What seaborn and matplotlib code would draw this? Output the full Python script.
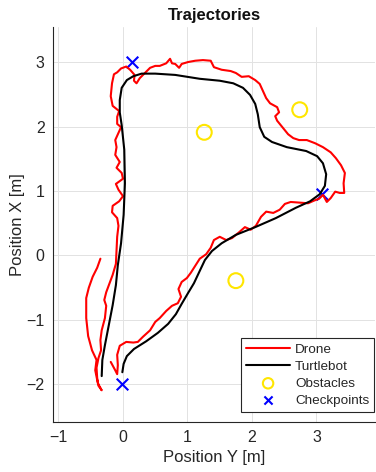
import seaborn as sns
import matplotlib.pyplot as plt

# Траектория дрона (Position Y, Position X), метры
drone_y = [-0.19, -0.12, -0.09, -0.08, -0.09, -0.05, 0.05, 0.16, 0.23, 0.31,
           0.42, 0.50, 0.57, 0.67, 0.76, 0.85, 0.90, 0.86, 0.91, 0.99,
           1.05, 1.12, 1.19, 1.29, 1.36, 1.41, 1.50, 1.60, 1.69, 1.80,
           1.89, 1.98, 2.06, 2.14, 2.22, 2.33, 2.43, 2.51, 2.60, 2.74,
           2.87, 2.96, 3.04, 3.10, 3.16, 3.22, 3.29, 3.36, 3.43, 3.42,
           3.44, 3.38, 3.30, 3.22, 3.10, 2.98, 2.85, 2.73, 2.64, 2.56,
           2.48, 2.39, 2.36, 2.42, 2.39, 2.28, 2.22, 2.17, 2.12, 2.05,
           1.95, 1.84, 1.75, 1.67, 1.53, 1.41, 1.36, 1.24, 1.12, 1.01,
           0.91, 0.87, 0.81, 0.76, 0.73, 0.67, 0.57, 0.50, 0.42, 0.34,
           0.26, 0.21, 0.17, 0.18, 0.11, 0.05, -0.03, -0.09, -0.14, -0.17,
           -0.19, -0.16, -0.06, -0.09, -0.09, -0.03, -0.08, -0.12, -0.10, -0.12,
           -0.05, -0.10, -0.02, 0.00, -0.11, -0.07, 0.00, -0.06, -0.16, -0.17,
           -0.09, -0.07, -0.09, -0.10, -0.11, -0.16, -0.20, -0.26, -0.29, -0.26,
           -0.28, -0.33, -0.35, -0.34, -0.38, -0.41, -0.40, -0.38, -0.33, -0.39,
           -0.43, -0.41, -0.48, -0.54, -0.57, -0.57, -0.53, -0.47, -0.40, -0.35]
drone_x = [-1.65, -1.78, -1.84, -1.70, -1.54, -1.40, -1.34, -1.35, -1.34, -1.26,
           -1.16, -1.03, -0.97, -0.86, -0.78, -0.74, -0.64, -0.52, -0.41, -0.35,
           -0.27, -0.16, -0.05, 0.02, 0.12, 0.24, 0.29, 0.24, 0.27, 0.36,
           0.44, 0.40, 0.46, 0.60, 0.68, 0.66, 0.71, 0.80, 0.83, 0.82,
           0.81, 0.85, 0.88, 0.94, 0.83, 0.89, 0.99, 0.97, 0.97, 1.12,
           1.28, 1.40, 1.51, 1.60, 1.68, 1.74, 1.79, 1.79, 1.82, 1.88,
           1.98, 2.09, 2.16, 2.22, 2.30, 2.36, 2.44, 2.55, 2.66, 2.72,
           2.78, 2.77, 2.83, 2.86, 2.88, 2.92, 3.02, 3.03, 3.02, 3.00,
           2.97, 2.91, 2.97, 2.98, 3.05, 2.98, 2.94, 2.94, 2.91, 2.83,
           2.75, 2.67, 2.71, 2.80, 2.88, 2.93, 2.90, 2.84, 2.81, 2.67,
           2.47, 2.32, 2.24, 2.15, 2.04, 1.99, 1.88, 1.79, 1.68, 1.56,
           1.45, 1.36, 1.28, 1.19, 1.11, 1.02, 0.92, 0.84, 0.77, 0.67,
           0.58, 0.46, 0.29, 0.09, -0.13, -0.30, -0.41, -0.57, -0.69, -0.78,
           -0.97, -1.16, -1.31, -1.47, -1.59, -1.74, -1.90, -2.02, -2.09, -1.98,
           -1.78, -1.62, -1.47, -1.25, -0.97, -0.66, -0.50, -0.33, -0.19, -0.05]

# Траектория Turtlebot
turtle_y = [-0.01, 0.01, 0.06, 0.17, 0.36, 0.54, 0.70, 0.82, 0.91, 1.01,
            1.10, 1.18, 1.27, 1.38, 1.53, 1.75, 2.05, 2.37, 2.68, 2.90,
            3.05, 3.13, 3.15, 3.10, 3.01, 2.84, 2.54, 2.31, 2.19, 2.12,
            2.09, 2.05, 1.97, 1.86, 1.71, 1.50, 1.19, 0.81, 0.50, 0.29,
            0.16, 0.06, -0.02, -0.05, -0.05, -0.02, 0.02, 0.03, 0.01, -0.03,
            -0.08, -0.11, -0.16, -0.22, -0.28, -0.32, -0.33]
turtle_x = [-1.81, -1.68, -1.56, -1.45, -1.33, -1.20, -1.06, -0.91, -0.75, -0.58,
            -0.43, -0.26, -0.07, 0.07, 0.19, 0.32, 0.44, 0.58, 0.74, 0.84,
            0.95, 1.08, 1.26, 1.43, 1.54, 1.62, 1.68, 1.76, 1.84, 1.99,
            2.19, 2.35, 2.49, 2.60, 2.67, 2.71, 2.74, 2.80, 2.82, 2.82,
            2.78, 2.72, 2.60, 2.41, 2.22, 2.02, 1.64, 1.12, 0.63, 0.19,
            -0.15, -0.46, -0.77, -1.08, -1.39, -1.62, -1.87]

# Препятствия и контрольные точки
obstacle_y = [1.26, 2.74, 1.75]
obstacle_x = [1.91, 2.26, -0.39]
checkpoint_y = [0.14, 3.08, -0.02]
checkpoint_x = [3.00, 0.95, -2.00]

sns.set_style('white')
plt.rcParams['font.family'] = ['Liberation Sans', 'DejaVu Sans']

fig = plt.figure(figsize=(3.76, 4.72), dpi=100)
ax = fig.add_axes([53 / 376, 1 - 421.5 / 472, 322 / 376, 394.5 / 472])

sns.lineplot(x=drone_y, y=drone_x, sort=False, estimator=None, color='#ff0000',
             linewidth=1.5, label='Drone', ax=ax)
sns.lineplot(x=turtle_y, y=turtle_x, sort=False, estimator=None, color='black',
             linewidth=1.5, label='Turtlebot', ax=ax)
sns.scatterplot(x=obstacle_y, y=obstacle_x, marker='o', s=115, facecolors='none',
                edgecolor='#ffe600', linewidth=1.5, label='Obstacles', ax=ax)
sns.scatterplot(x=checkpoint_y, y=checkpoint_x, marker='x', s=70, color='#0000ff',
                linewidth=1.5, label='Checkpoints', ax=ax)

ax.set_xlim(-1.085, 3.907)
ax.set_ylim(-2.574, 3.543)
ax.set_xticks([-1, 0, 1, 2, 3])
ax.set_yticks([-2, -1, 0, 1, 2, 3])
ax.grid(True, color='#e2e2e2', linewidth=0.7)
ax.set_axisbelow(True)
for side in ['top', 'right']:
    ax.spines[side].set_visible(False)
for side in ['left', 'bottom']:
    ax.spines[side].set_color('#262626')
    ax.spines[side].set_linewidth(0.8)
ax.tick_params(direction='in', length=3, width=0.8, colors='#262626',
               labelsize=11.5, pad=6)

ax.set_title('Trajectories', fontsize=12, fontweight='bold', color='#111111', pad=5)
ax.set_xlabel('Position Y [m]', fontsize=12, color='#262626')
ax.set_ylabel('Position X [m]', fontsize=12, color='#262626', labelpad=1)

leg = ax.legend(loc='lower right', bbox_to_anchor=(374 / 376, 60.3 / 472),
                bbox_transform=fig.transFigure, fontsize=9.7, handlelength=3.3,
                handletextpad=0.35, labelspacing=0.35, borderpad=0.35,
                borderaxespad=0, fancybox=False, framealpha=1, markerscale=0.7)
leg.get_frame().set_edgecolor('#262626')
leg.get_frame().set_linewidth(0.8)

fig.savefig('out.png', dpi=100)
